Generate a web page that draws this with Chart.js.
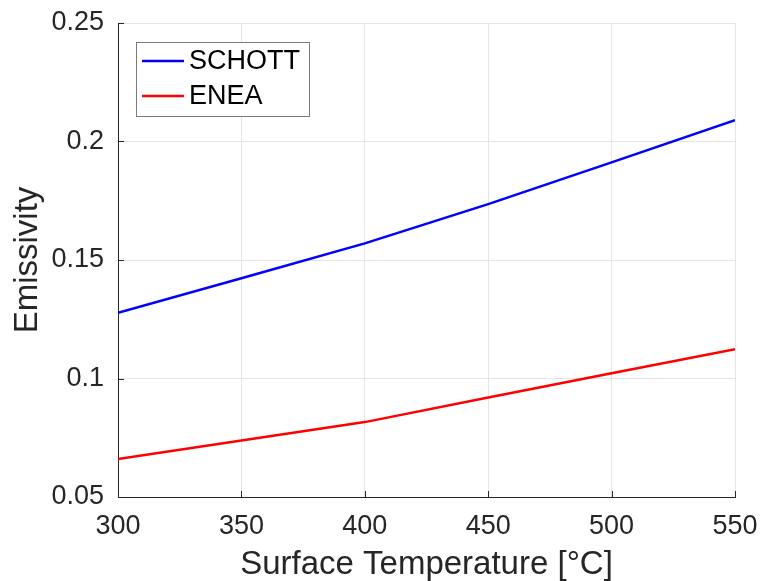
<!DOCTYPE html>
<html lang="en">
<head>
  <meta charset="UTF-8" />
  <title>Emissivity vs Surface Temperature</title>
  <script src="https://cdn.jsdelivr.net/npm/chart.js"></script>
  <style>
    body { margin: 0; background: #fff; }
    #chart { display: block; }
  </style>
</head>
<body>
  <canvas id="chart" width="760" height="581"></canvas>
  <script>
    const temperatures = [300, 350, 400, 450, 500, 550];
    const schott = [0.1277, 0.1423, 0.1570, 0.1736, 0.1912, 0.2090];
    const enea = [0.0660, 0.0738, 0.0816, 0.0920, 0.1022, 0.1124];
    const seriesNames = ['SCHOTT', 'ENEA'];
    const seriesColors = ['#0000ff', '#ff0000'];

    const FONT = "'Liberation Sans', Arial, sans-serif";
    const INK = '#262626';

    // MATLAB-style inward tick marks
    const innerTicks = {
      id: 'innerTicks',
      afterDraw(chart) {
        const { ctx, chartArea: a, scales } = chart;
        ctx.save();
        ctx.strokeStyle = INK;
        ctx.lineWidth = 1;
        ctx.beginPath();
        scales.x.ticks.forEach(t => {
          const px = Math.round(scales.x.getPixelForValue(t.value)) + 0.5;
          ctx.moveTo(px, a.bottom);
          ctx.lineTo(px, a.bottom - 6);
        });
        scales.y.ticks.forEach(t => {
          const py = Math.round(scales.y.getPixelForValue(t.value)) + 0.5;
          ctx.moveTo(a.left, py);
          ctx.lineTo(a.left + 6, py);
        });
        ctx.stroke();
        ctx.restore();
      }
    };

    // legend box in the upper left corner of the plot
    const boxLegend = {
      id: 'boxLegend',
      afterDraw(chart) {
        const { ctx, chartArea: a } = chart;
        const x0 = a.left + 18, y0 = a.top + 19;
        const w = 173, rowH = 35;
        const h = 74;
        ctx.save();
        ctx.fillStyle = '#fff';
        ctx.fillRect(x0, y0, w, h);
        ctx.strokeStyle = '#7a7a7a';
        ctx.lineWidth = 1;
        ctx.strokeRect(x0 + 0.5, y0 + 0.5, w, h);
        ctx.font = '27px ' + FONT;
        ctx.textBaseline = 'middle';
        chart.data.datasets.forEach((ds, i) => {
          const cy = y0 + 19 + i * rowH;
          ctx.strokeStyle = ds.borderColor;
          ctx.lineWidth = 2.5;
          ctx.beginPath();
          ctx.moveTo(x0 + 6, cy);
          ctx.lineTo(x0 + 48, cy);
          ctx.stroke();
          ctx.fillStyle = '#000';
          ctx.fillText(ds.label, x0 + 53, cy + 1);
        });
        ctx.restore();
      }
    };

    new Chart(document.getElementById('chart'), {
      type: 'line',
      data: {
        datasets: [schott, enea].map((vals, i) => ({
          label: seriesNames[i],
          data: temperatures.map((t, j) => ({ x: t, y: vals[j] })),
          borderColor: seriesColors[i],
          borderWidth: 2.5,
          pointRadius: 0,
          tension: 0,
          fill: false
        }))
      },
      options: {
        responsive: false,
        animation: false,
        layout: { padding: { left: 0, top: 23, right: 25, bottom: 0 } },
        plugins: { legend: { display: false }, tooltip: { enabled: false } },
        scales: {
          x: {
            type: 'linear',
            min: 300,
            max: 550,
            afterBuildTicks: s => { s.ticks = temperatures.map(v => ({ value: v })); },
            afterFit: s => { s.height = 84; s.paddingLeft = 0; s.paddingRight = 0; },
            grid: { color: '#e5e5e5', drawTicks: false },
            border: { color: INK, width: 1 },
            ticks: { color: INK, padding: 13, font: { family: FONT, size: 27 } },
            title: {
              display: true,
              text: 'Surface Temperature [°C]',
              color: INK,
              padding: { top: 0, bottom: 0 },
              font: { family: FONT, size: 33, lineHeight: 1 }
            }
          },
          y: {
            min: 0.05,
            max: 0.25,
            afterFit: s => { s.width = 118; s.paddingTop = 0; s.paddingBottom = 0; },
            grid: { color: '#e5e5e5', drawTicks: false },
            border: { color: INK, width: 1 },
            ticks: {
              stepSize: 0.05,
              color: INK,
              padding: 14,
              font: { family: FONT, size: 27 },
              callback: v => String(Math.round(v * 100) / 100)
            },
            title: {
              display: true,
              text: 'Emissivity',
              color: INK,
              padding: { top: 11, bottom: 0 },
              font: { family: FONT, size: 33, lineHeight: 1 }
            }
          }
        }
      },
      plugins: [innerTicks, boxLegend]
    });
  </script>
</body>
</html>
